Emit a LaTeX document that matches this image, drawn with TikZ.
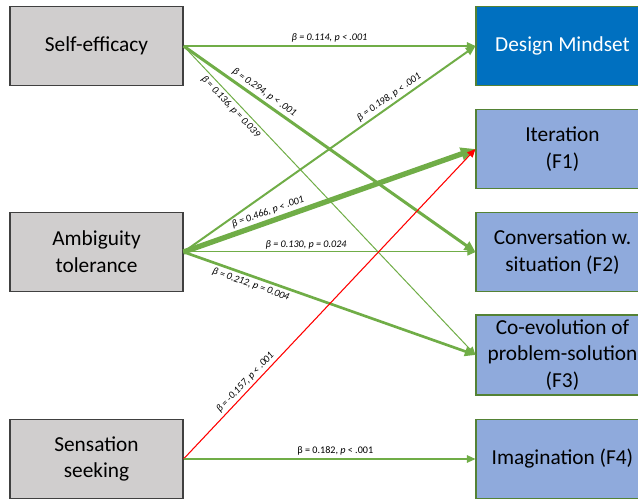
\documentclass[tikz,border=0pt]{standalone}
\usepackage{fontspec}
\setmainfont{Carlito}
\usetikzlibrary{arrows.meta}

\definecolor{pathgreen}{HTML}{70AD47}
\definecolor{negred}{HTML}{FF0000}
\definecolor{predgray}{HTML}{D0CECE}
\definecolor{facblue}{HTML}{8FAADC}
\definecolor{mindblue}{HTML}{0070C0}

\begin{document}
\begin{tikzpicture}[x=0.75pt,y=0.75pt,>={Triangle[length=5pt 1.5,width=4.5pt 1.2]},
    box/.style={rectangle,minimum width=129.75pt,minimum height=59.25pt,align=center,
      line width=0.8pt,font=\fontsize{16}{20}\selectfont},
    pred/.style={box,fill=predgray,draw=black!75},
    fac/.style={box,fill=facblue,draw=pathgreen!75!black},
    mind/.style={box,fill=mindblue,draw=pathgreen!75!black,text=white},
    lbl/.style={font=\fontsize{7.6}{9}\selectfont\itshape,sloped,inner sep=2pt,text=black},
    eff/.style={draw=pathgreen,->},
    neg/.style={draw=negred,->}]
    \useasboundingbox (0,0) rectangle (638,500);

    \node[pred] (SE) at (96.5,454) {Self-efficacy};
    \node[pred] (AT) at (96.5,248) {Ambiguity\\tolerance};
    \node[pred] (SS) at (96.5,41)  {Sensation\\seeking};

    \node[mind] (DM) at (562.5,454) {Design Mindset};
    \node[fac]  (F1) at (562.5,351) {Iteration\\(F1)};
    \node[fac]  (F2) at (562.5,248) {Conversation w.\\situation (F2)};
    \node[fac]  (F3) at (562.5,145) {Co-evolution of\\problem-solution\\(F3)};
    \node[fac]  (F4) at (562.5,41)  {Imagination (F4)};

    \path (SE.east) edge[eff,line width=1pt]    node[lbl,above,pos=0.5]  {β = 0.114, p < .001} (DM.west);
    \path (SE.east) edge[eff,line width=0.75pt] node[lbl,below,pos=0.18] {β = 0.136, p = 0.039} (F3.west);
    \path (SE.east) edge[eff,line width=2.25pt] node[lbl,above,pos=0.26] {β = 0.294, p < .001} (F2.west);
    \path (AT.east) edge[eff,line width=1.5pt]  node[lbl,above,pos=0.72] {β = 0.198, p < .001} (DM.west);
    \path (AT.east) edge[eff,line width=0.75pt] node[lbl,above,pos=0.42] {β = 0.130, p = 0.024} (F2.west);
    \path (AT.east) edge[eff,line width=2pt]    node[lbl,below,pos=0.24] {β = 0.212, p = 0.004} (F3.west);
    \path (AT.east) edge[eff,line width=4pt]    node[lbl,above,pos=0.3]  {β = 0.466, p < .001} (F1.west);
    \path (SS.east) edge[neg,line width=0.8pt]  node[lbl,above,pos=0.23] {β = -0.157, p < .001} (F1.west);
    \path (SS.east) edge[eff,line width=1pt]    node[lbl,above,pos=0.52] {\upshape β = 0.182, \textit{p} < .001} (F4.west);

  \end{tikzpicture}
\end{document}
